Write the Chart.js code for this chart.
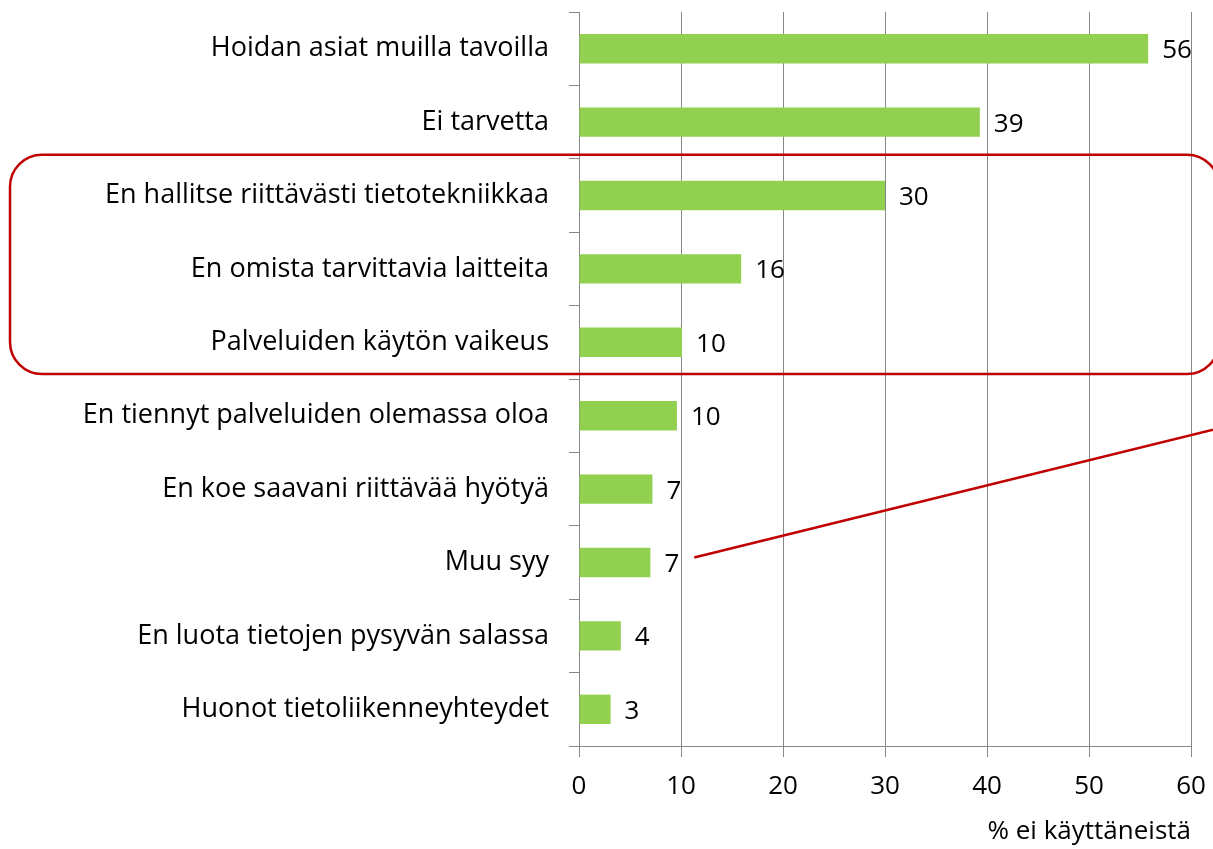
<!DOCTYPE html>
<html lang="fi">
<head>
    <meta charset="UTF-8">
    <title>Syyt palvelujen käyttämättömyyteen</title>
    <script src="https://cdn.jsdelivr.net/npm/chart.js"></script>
    <style>
        html, body { margin: 0; padding: 0; background: #fff; }
        .chart-wrap { position: relative; width: 1213px; height: 849px; }
    </style>
</head>
<body>
    <div class="chart-wrap">
        <canvas id="reasonChart"></canvas>
    </div>
    <script>
        // Kategoriat ja arvot (% ei käyttäneistä)
        const categories = [
            'Hoidan asiat muilla tavoilla',
            'Ei tarvetta',
            'En hallitse riittävästi tietotekniikkaa',
            'En omista tarvittavia laitteita',
            'Palveluiden käytön vaikeus',
            'En tiennyt palveluiden olemassa oloa',
            'En koe saavani riittävää hyötyä',
            'Muu syy',
            'En luota tietojen pysyvän salassa',
            'Huonot tietoliikenneyhteydet'
        ];
        const shares = [55.8, 39.3, 30.0, 15.9, 10.1, 9.6, 7.2, 7.0, 4.1, 3.1];
        const xTicks = [0, 10, 20, 30, 40, 50, 60];
        const axisTitle = '% ei käyttäneistä';

        const FONT = '"Open Sans", "Noto Sans", sans-serif';
        const RED = '#C00000';

        // arvot palkkien perään
        const valueLabels = {
            id: 'valueLabels',
            afterDatasetsDraw(chart) {
                const ctx = chart.ctx;
                const meta = chart.getDatasetMeta(0);
                ctx.save();
                ctx.font = '26px ' + FONT;
                ctx.fillStyle = '#000';
                ctx.textBaseline = 'middle';
                meta.data.forEach((bar, i) => {
                    ctx.fillText(String(Math.round(shares[i])), bar.x + 14, bar.y + 2);
                });
                ctx.restore();
            }
        };

        // punainen kehys ja viiva
        const highlight = {
            id: 'highlight',
            afterDraw(chart) {
                const ctx = chart.ctx;
                const y = chart.scales.y;
                const x = chart.scales.x;
                const half = (y.getPixelForValue(1) - y.getPixelForValue(0)) / 2;
                const top = y.getPixelForValue(2) - half - 4;
                const bottom = y.getPixelForValue(4) + half - 5;
                const left = 10, right = chart.width + 6, r = 32;
                ctx.save();
                ctx.strokeStyle = RED;
                ctx.lineWidth = 2.5;
                ctx.beginPath();
                ctx.moveTo(left + r, top);
                ctx.lineTo(right - r, top);
                ctx.arcTo(right, top, right, top + r, r);
                ctx.lineTo(right, bottom - r);
                ctx.arcTo(right, bottom, right - r, bottom, r);
                ctx.lineTo(left + r, bottom);
                ctx.arcTo(left, bottom, left, bottom - r, r);
                ctx.lineTo(left, top + r);
                ctx.arcTo(left, top, left + r, top, r);
                ctx.closePath();
                ctx.stroke();

                ctx.beginPath();
                ctx.moveTo(x.getPixelForValue(11.3), y.getPixelForValue(7) - 5);
                ctx.lineTo(chart.width, y.getPixelForValue(5) + 14);
                ctx.stroke();
                ctx.restore();
            }
        };

        new Chart(document.getElementById('reasonChart'), {
            type: 'bar',
            data: {
                labels: categories,
                datasets: [{
                    data: shares,
                    backgroundColor: '#92D050',
                    borderWidth: 0,
                    barPercentage: 0.4,
                    categoryPercentage: 1.0
                }]
            },
            options: {
                indexAxis: 'y',
                responsive: true,
                maintainAspectRatio: false,
                animation: false,
                layout: { padding: { top: 12, right: 22, left: 0, bottom: 0 } },
                plugins: {
                    legend: { display: false },
                    tooltip: { enabled: false }
                },
                scales: {
                    x: {
                        min: 0,
                        max: 60,
                        afterBuildTicks(axis) {
                            axis.ticks = xTicks.map(v => ({ value: v }));
                        },
                        afterFit(axis) {
                            axis.height = 103;
                            axis.paddingLeft = 0;
                            axis.paddingRight = 0;
                        },
                        grid: {
                            color: '#878787',
                            lineWidth: 1,
                            tickLength: 11
                        },
                        border: { color: '#878787', width: 1 },
                        ticks: {
                            color: '#000',
                            font: { family: FONT, size: 26 },
                            padding: 14
                        },
                        title: {
                            display: true,
                            text: axisTitle,
                            align: 'end',
                            color: '#000',
                            font: { family: FONT, size: 26 },
                            padding: { top: 0, bottom: 2 }
                        }
                    },
                    y: {
                        afterFit(axis) {
                            axis.width = 579;
                            axis.paddingTop = 0;
                            axis.paddingBottom = 0;
                        },
                        grid: {
                            offset: true,
                            drawOnChartArea: false,
                            color: '#878787',
                            tickLength: 10
                        },
                        border: { color: '#878787', width: 1 },
                        ticks: {
                            color: '#000',
                            font: { family: FONT, size: 27 },
                            padding: 20
                        }
                    }
                }
            },
            plugins: [valueLabels, highlight]
        });
    </script>
</body>
</html>
